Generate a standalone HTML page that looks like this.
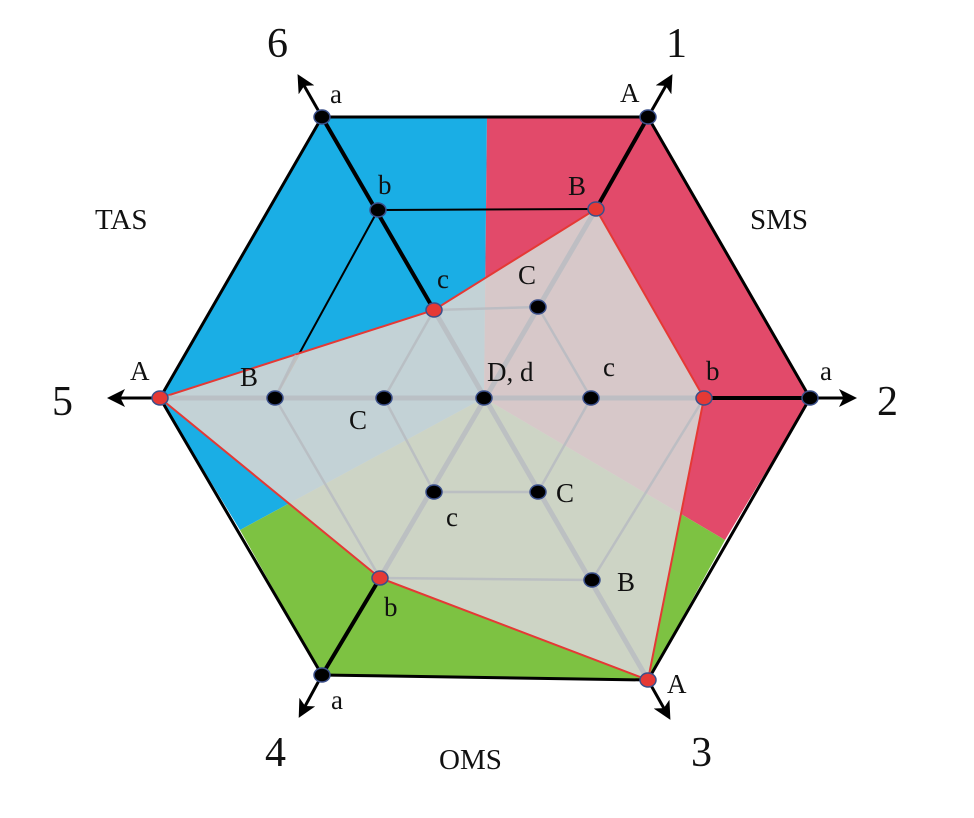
<!DOCTYPE html>
<html><head><meta charset="utf-8"><style>
html,body{margin:0;padding:0;background:#fff}
svg{display:block}
text{font-family:"Liberation Serif",serif;fill:#111}
</style></head><body>
<svg width="974" height="818" viewBox="0 0 974 818" xmlns="http://www.w3.org/2000/svg">
<defs>
<marker id="ar" markerWidth="6" markerHeight="6" refX="3" refY="3" orient="auto" markerUnits="strokeWidth">
<path d="M0,0 L6,3 L0,6 L1.5,3 z" fill="#000"/>
</marker>
</defs>
<polygon points="484,398 487,117 322,117 160,398 240,530" fill="#1aaee5"/>
<polygon points="484,398 487,117 648,117 810,398 725,540" fill="#e24a6a"/>
<polygon points="484,398 240,530 322,675 648,680 725,540" fill="#7dc242"/>
<polygon points="322,117 648,117 810,398 648,680 322,675 160,398" fill="none" stroke="#000" stroke-width="3"/>
<line x1="378" y1="210" x2="596" y2="209" stroke="#000" stroke-width="2"/>
<line x1="378" y1="210" x2="275" y2="398" stroke="#000" stroke-width="2"/>
<polygon points="596,209 704,398 648,680 380,578 160,398 434,310" fill="rgb(214,214,212)" fill-opacity="0.9" stroke="#e53935" stroke-width="2"/>
<g stroke="#b8bcc2" stroke-width="5" opacity="0.8">
<line x1="596" y1="209" x2="380" y2="578"/>
<line x1="434" y1="310" x2="648" y2="680"/>
<line x1="160" y1="398" x2="704" y2="398"/>
</g>
<g stroke="#b8bcc2" stroke-width="2.5" opacity="0.85" fill="none">
<line x1="434" y1="310" x2="538" y2="307"/>
<line x1="538" y1="307" x2="591" y2="398"/>
<line x1="591" y1="398" x2="538" y2="492"/>
<line x1="434" y1="492" x2="538" y2="492"/>
<line x1="384" y1="398" x2="434" y2="310"/>
<line x1="384" y1="398" x2="434" y2="492"/>
<line x1="275" y1="398" x2="380" y2="578"/>
<line x1="275" y1="398" x2="296" y2="355"/>
<line x1="704" y1="398" x2="592" y2="580"/>
<line x1="380" y1="578" x2="592" y2="580"/>
</g>
<g stroke="#000" stroke-width="4" fill="none">
<line x1="596" y1="209" x2="648" y2="117"/>
<line x1="434" y1="310" x2="322" y2="117"/>
<line x1="704" y1="398" x2="810" y2="398"/>
<line x1="380" y1="578" x2="322" y2="675"/>
</g>
<g stroke="#000" stroke-width="3" fill="none" marker-end="url(#ar)">
<line x1="648" y1="117" x2="668" y2="82"/>
<line x1="322" y1="117" x2="302" y2="82"/>
<line x1="810" y1="398" x2="848" y2="398"/>
<line x1="160" y1="398" x2="116" y2="398"/>
<line x1="648" y1="680" x2="666" y2="712"/>
<line x1="322" y1="675" x2="303" y2="710"/>
</g>
<g stroke="#3a4f8a" stroke-width="1.5">
<ellipse cx="648" cy="117" rx="8" ry="7" fill="#000"/>
<ellipse cx="322" cy="117" rx="8" ry="7" fill="#000"/>
<ellipse cx="378" cy="210" rx="8" ry="7" fill="#000"/>
<ellipse cx="810" cy="398" rx="8" ry="7" fill="#000"/>
<ellipse cx="322" cy="675" rx="8" ry="7" fill="#000"/>
<ellipse cx="538" cy="307" rx="8" ry="7" fill="#000"/>
<ellipse cx="591" cy="398" rx="8" ry="7" fill="#000"/>
<ellipse cx="538" cy="492" rx="8" ry="7" fill="#000"/>
<ellipse cx="434" cy="492" rx="8" ry="7" fill="#000"/>
<ellipse cx="384" cy="398" rx="8" ry="7" fill="#000"/>
<ellipse cx="275" cy="398" rx="8" ry="7" fill="#000"/>
<ellipse cx="484" cy="398" rx="8" ry="7" fill="#000"/>
<ellipse cx="592" cy="580" rx="8" ry="7" fill="#000"/>
<ellipse cx="596" cy="209" rx="8" ry="7" fill="#e53935"/>
<ellipse cx="704" cy="398" rx="8" ry="7" fill="#e53935"/>
<ellipse cx="648" cy="680" rx="8" ry="7" fill="#e53935"/>
<ellipse cx="380" cy="578" rx="8" ry="7" fill="#e53935"/>
<ellipse cx="160" cy="398" rx="8" ry="7" fill="#e53935"/>
<ellipse cx="434" cy="310" rx="8" ry="7" fill="#e53935"/>
</g>
<g font-size="42">
<text x="666" y="57">1</text>
<text x="877" y="415">2</text>
<text x="691" y="766">3</text>
<text x="265" y="766">4</text>
<text x="52" y="415">5</text>
<text x="267" y="57">6</text>
</g>
<g font-size="29">
<text x="95" y="229">TAS</text>
<text x="750" y="229">SMS</text>
<text x="439" y="769">OMS</text>
</g>
<g font-size="27">
<text x="620" y="102">A</text>
<text x="568" y="195">B</text>
<text x="518" y="284">C</text>
<text x="330" y="103">a</text>
<text x="378" y="194">b</text>
<text x="437" y="288">c</text>
<text x="820" y="380">a</text>
<text x="706" y="380">b</text>
<text x="603" y="376">c</text>
<text x="487" y="381">D, d</text>
<text x="130" y="380">A</text>
<text x="240" y="386">B</text>
<text x="349" y="429">C</text>
<text x="556" y="502">C</text>
<text x="446" y="526">c</text>
<text x="617" y="591">B</text>
<text x="667" y="693">A</text>
<text x="384" y="616">b</text>
<text x="331" y="709">a</text>
</g>
</svg>
</body></html>
